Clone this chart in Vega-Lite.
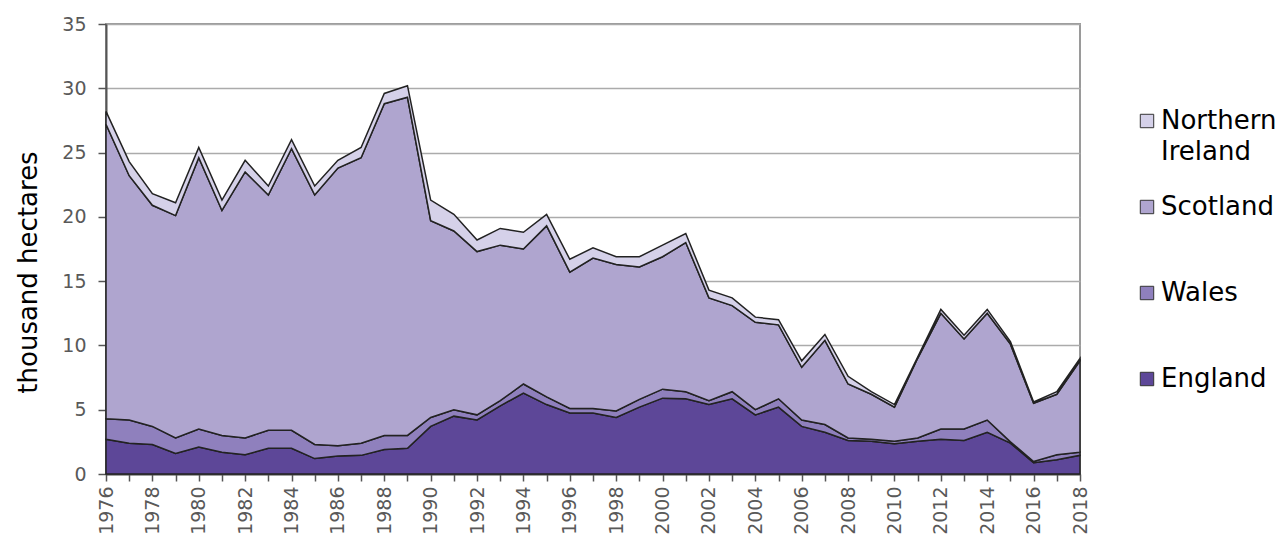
{
  "$schema": "https://vega.github.io/schema/vega-lite/v6.json",
  "width": 974,
  "height": 450,
  "autosize": {"type": "none"},
  "padding": {"left": 106, "top": 24, "right": 200, "bottom": 66},
  "background": "white",
  "config": {
    "font": "DejaVu Sans",
    "view": {"stroke": "#9a9a9a", "strokeWidth": 2}
  },
  "data": {
    "values": [
      {"year": 1976, "England": 2.7, "Wales": 1.6, "Scotland": 22.9, "Northern Ireland": 1.0},
      {"year": 1977, "England": 2.4, "Wales": 1.8, "Scotland": 19.0, "Northern Ireland": 1.1},
      {"year": 1978, "England": 2.3, "Wales": 1.4, "Scotland": 17.2, "Northern Ireland": 0.9},
      {"year": 1979, "England": 1.6, "Wales": 1.2, "Scotland": 17.3, "Northern Ireland": 1.0},
      {"year": 1980, "England": 2.1, "Wales": 1.4, "Scotland": 21.1, "Northern Ireland": 0.8},
      {"year": 1981, "England": 1.7, "Wales": 1.3, "Scotland": 17.5, "Northern Ireland": 0.8},
      {"year": 1982, "England": 1.5, "Wales": 1.3, "Scotland": 20.7, "Northern Ireland": 0.9},
      {"year": 1983, "England": 2.0, "Wales": 1.4, "Scotland": 18.3, "Northern Ireland": 0.7},
      {"year": 1984, "England": 2.0, "Wales": 1.4, "Scotland": 21.9, "Northern Ireland": 0.7},
      {"year": 1985, "England": 1.2, "Wales": 1.1, "Scotland": 19.4, "Northern Ireland": 0.7},
      {"year": 1986, "England": 1.4, "Wales": 0.8, "Scotland": 21.6, "Northern Ireland": 0.6},
      {"year": 1987, "England": 1.45, "Wales": 0.95, "Scotland": 22.2, "Northern Ireland": 0.8},
      {"year": 1988, "England": 1.9, "Wales": 1.1, "Scotland": 25.8, "Northern Ireland": 0.8},
      {"year": 1989, "England": 2.0, "Wales": 1.0, "Scotland": 26.3, "Northern Ireland": 0.9},
      {"year": 1990, "England": 3.7, "Wales": 0.7, "Scotland": 15.3, "Northern Ireland": 1.6},
      {"year": 1991, "England": 4.5, "Wales": 0.5, "Scotland": 13.9, "Northern Ireland": 1.3},
      {"year": 1992, "England": 4.2, "Wales": 0.4, "Scotland": 12.7, "Northern Ireland": 0.9},
      {"year": 1993, "England": 5.3, "Wales": 0.4, "Scotland": 12.1, "Northern Ireland": 1.3},
      {"year": 1994, "England": 6.3, "Wales": 0.7, "Scotland": 10.5, "Northern Ireland": 1.3},
      {"year": 1995, "England": 5.4, "Wales": 0.6, "Scotland": 13.3, "Northern Ireland": 0.9},
      {"year": 1996, "England": 4.75, "Wales": 0.35, "Scotland": 10.6, "Northern Ireland": 1.0},
      {"year": 1997, "England": 4.75, "Wales": 0.35, "Scotland": 11.7, "Northern Ireland": 0.8},
      {"year": 1998, "England": 4.4, "Wales": 0.5, "Scotland": 11.4, "Northern Ireland": 0.6},
      {"year": 1999, "England": 5.2, "Wales": 0.6, "Scotland": 10.3, "Northern Ireland": 0.8},
      {"year": 2000, "England": 5.9, "Wales": 0.7, "Scotland": 10.3, "Northern Ireland": 0.9},
      {"year": 2001, "England": 5.85, "Wales": 0.55, "Scotland": 11.6, "Northern Ireland": 0.7},
      {"year": 2002, "England": 5.4, "Wales": 0.3, "Scotland": 8.0, "Northern Ireland": 0.6},
      {"year": 2003, "England": 5.85, "Wales": 0.55, "Scotland": 6.7, "Northern Ireland": 0.6},
      {"year": 2004, "England": 4.6, "Wales": 0.4, "Scotland": 6.8, "Northern Ireland": 0.4},
      {"year": 2005, "England": 5.2, "Wales": 0.65, "Scotland": 5.75, "Northern Ireland": 0.4},
      {"year": 2006, "England": 3.7, "Wales": 0.5, "Scotland": 4.1, "Northern Ireland": 0.5},
      {"year": 2007, "England": 3.25, "Wales": 0.6, "Scotland": 6.55, "Northern Ireland": 0.45},
      {"year": 2008, "England": 2.6, "Wales": 0.2, "Scotland": 4.2, "Northern Ireland": 0.6},
      {"year": 2009, "England": 2.55, "Wales": 0.15, "Scotland": 3.5, "Northern Ireland": 0.2},
      {"year": 2010, "England": 2.35, "Wales": 0.2, "Scotland": 2.65, "Northern Ireland": 0.2},
      {"year": 2011, "England": 2.55, "Wales": 0.25, "Scotland": 6.2, "Northern Ireland": 0.1},
      {"year": 2012, "England": 2.7, "Wales": 0.8, "Scotland": 9.0, "Northern Ireland": 0.3},
      {"year": 2013, "England": 2.6, "Wales": 0.9, "Scotland": 7.0, "Northern Ireland": 0.3},
      {"year": 2014, "England": 3.25, "Wales": 0.95, "Scotland": 8.3, "Northern Ireland": 0.3},
      {"year": 2015, "England": 2.4, "Wales": 0.1, "Scotland": 7.6, "Northern Ireland": 0.2},
      {"year": 2016, "England": 0.87, "Wales": 0.1, "Scotland": 4.53, "Northern Ireland": 0.1},
      {"year": 2017, "England": 1.1, "Wales": 0.4, "Scotland": 4.7, "Northern Ireland": 0.2},
      {"year": 2018, "England": 1.45, "Wales": 0.25, "Scotland": 7.1, "Northern Ireland": 0.2}
    ]
  },
  "transform": [
    {"fold": ["England", "Wales", "Scotland", "Northern Ireland"], "as": ["region", "value"]},
    {"window": [{"op": "row_number", "as": "stackRank"}], "groupby": ["year"]}
  ],
  "mark": {"type": "area", "stroke": "#222222", "strokeWidth": 1.5, "strokeJoin": "miter"},
  "encoding": {
    "x": {
      "field": "year",
      "type": "quantitative",
      "scale": {"domain": [1976, 2018], "nice": false, "zero": false},
      "axis": {
        "title": null,
        "values": [1976,1977,1978,1979,1980,1981,1982,1983,1984,1985,1986,1987,1988,1989,1990,1991,1992,1993,1994,1995,1996,1997,1998,1999,2000,2001,2002,2003,2004,2005,2006,2007,2008,2009,2010,2011,2012,2013,2014,2015,2016,2017,2018],
        "format": "d",
        "labelExpr": "datum.value % 2 == 0 ? datum.label : ''",
        "labelAngle": -90,
        "labelAlign": "right",
        "labelBaseline": "middle",
        "labelFontSize": 19,
        "labelColor": "#595959",
        "labelPadding": 5,
        "labelOverlap": false,
        "labelBound": false,
        "labelFlush": false,
        "grid": false,
        "domainColor": "#555555",
        "domainWidth": 2,
        "tickColor": "#555555",
        "tickWidth": 1.5,
        "tickSize": 7
      }
    },
    "y": {
      "field": "value",
      "type": "quantitative",
      "stack": "zero",
      "scale": {"domain": [0, 35], "nice": false},
      "axis": {
        "title": "thousand hectares",
        "titleFontSize": 26,
        "titleFontWeight": "normal",
        "titleColor": "#000000",
        "titlePadding": 20,
        "titleY": 248,
        "values": [0, 5, 10, 15, 20, 25, 30, 35],
        "labelFontSize": 19,
        "labelColor": "#595959",
        "labelPadding": 12,
        "grid": true,
        "gridColor": "#ababab",
        "gridWidth": 1.5,
        "domainColor": "#555555",
        "domainWidth": 2,
        "tickColor": "#555555",
        "tickWidth": 1.5,
        "tickSize": 8
      }
    },
    "order": {"field": "stackRank", "type": "quantitative", "sort": "ascending"},
    "color": {
      "field": "region",
      "type": "nominal",
      "sort": ["England", "Wales", "Scotland", "Northern Ireland"],
      "scale": {
        "domain": ["England", "Wales", "Scotland", "Northern Ireland"],
        "range": ["#5d4798", "#8f80bd", "#afa5cf", "#d5d1e9"]
      },
      "legend": {
        "title": null,
        "orient": "none",
        "legendX": 1028,
        "legendY": 84,
        "values": ["Northern Ireland", "Scotland", "Wales", "England"],
        "labelExpr": "datum.label == 'Northern Ireland' ? ['Northern', 'Ireland'] : [datum.label, ' ']",
        "labelFontSize": 26,
        "labelColor": "#000000",
        "labelOffset": 1,
        "labelLimit": 300,
        "symbolType": "square",
        "symbolSize": 180,
        "symbolStrokeColor": "#333333",
        "symbolStrokeWidth": 1,
        "symbolOpacity": 1,
        "rowPadding": 29,
        "encode": {
          "labels": {
            "update": {
              "lineHeight": {"value": 31}
            }
          }
        }
      }
    }
  }
}
